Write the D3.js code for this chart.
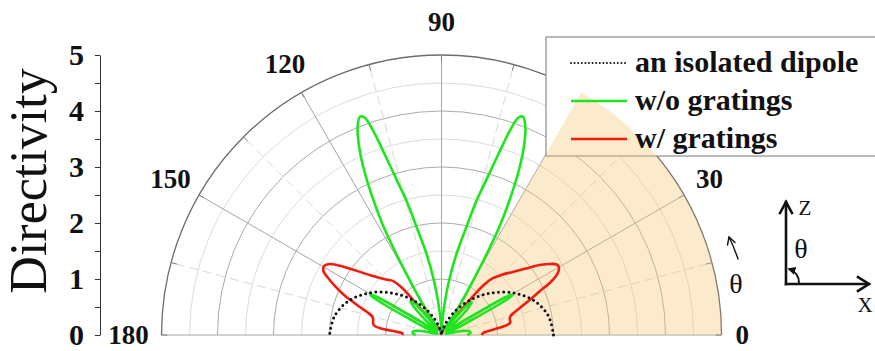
<!DOCTYPE html>
<html>
<head>
<meta charset="utf-8">
<script src="https://cdn.jsdelivr.net/npm/d3@7"></script>
<style>
  html, body { margin: 0; padding: 0; background: #fff; }
  svg { display: block; }
  text { font-family: "Liberation Serif", "Times New Roman", serif; }
</style>
</head>
<body>
<svg id="chart" width="875" height="351"></svg>
<script>
// Polar directivity patterns, theta in degrees (0 = +x, 90 = +z)
const thetaDipole = [0, 10, 20, 30, 40, 50, 60, 70, 80, 90, 100, 110, 120, 130, 140, 150, 160, 170, 180];
const dipole      = [2.0, 1.94, 1.77, 1.5, 1.17, 0.83, 0.5, 0.23, 0.06, 0.0, 0.06, 0.23, 0.5, 0.83, 1.17, 1.5, 1.77, 1.94, 2.0];

const thetaWoGratings = [
  0, 4, 8, 11, 14, 17, 21, 24, 26.5, 28, 29.2, 30.3, 31.3, 32.5, 34.5, 38, 42, 45, 47.5, 49.5,
  51.5, 54, 56.5, 58.5, 60, 61, 62, 63.5, 65, 66.5, 68, 69.5, 70.5, 71.5, 72.5, 74, 75.5, 77, 79.5, 82,
  84.5, 87, 90, 93, 95.5, 98, 100.5, 103, 104.5, 106, 107.5, 108.5, 109.5, 110.5, 112, 113.5, 115, 116.5, 118, 119,
  120, 121.5, 123.5, 126, 128.5, 130.5, 132.5, 135, 138, 142, 145.5, 147.5, 148.7, 149.7, 150.8, 152, 153.5, 156, 159, 163,
  166, 169, 172, 176, 180
];
const woGratings = [
  0.46, 0.52, 0.5, 0.38, 0.12, 0.08, 0.1, 0.3, 0.6, 1.15, 1.46, 1.4, 0.95, 0.5, 0.15, 0.1, 0.3, 0.65, 0.8, 0.7,
  0.4, 0.12, 0.15, 0.6, 1.2, 1.75, 2.25, 2.8, 3.3, 3.7, 4.0, 4.16, 4.12, 3.85, 3.4, 2.85, 2.45, 1.98, 1.48, 1.0,
  0.55, 0.2, 0.05, 0.2, 0.55, 1.0, 1.48, 1.98, 2.45, 2.85, 3.4, 3.85, 4.12, 4.16, 4.0, 3.7, 3.3, 2.8, 2.25, 1.75,
  1.2, 0.6, 0.15, 0.12, 0.4, 0.78, 0.82, 0.65, 0.3, 0.1, 0.15, 0.5, 0.95, 1.4, 1.46, 1.15, 0.6, 0.3, 0.1, 0.08,
  0.12, 0.38, 0.5, 0.52, 0.46
];

const thetaWGratings = [
  0, 2.5, 4.5, 6.5, 8.5, 10.5, 13, 15.5, 17.5, 20, 22, 24, 26, 28, 30, 31.5, 33, 35.5, 38.5, 41.5,
  45, 48, 50, 51, 52, 53.5, 57, 63, 70, 78, 85, 90, 95, 102, 110, 117, 123, 126.5, 128, 129,
  130, 132, 135, 140, 145, 147.5, 149.5, 151.5, 153.5, 155.5, 157.5, 159, 161, 162.8, 165, 167.5, 170, 171.8, 173.8, 175.8,
  177.5, 180
];
const wGratings = [
  0.72, 0.74, 0.82, 0.98, 1.18, 1.25, 1.25, 1.28, 1.38, 1.55, 1.72, 1.92, 2.18, 2.35, 2.42, 2.41, 2.33, 2.15, 1.9, 1.7,
  1.52, 1.36, 1.15, 0.8, 0.5, 0.3, 0.22, 0.17, 0.12, 0.08, 0.05, 0.04, 0.05, 0.08, 0.12, 0.17, 0.22, 0.3, 0.5, 0.8,
  1.1, 1.3, 1.4, 1.66, 2.12, 2.36, 2.43, 2.4, 2.25, 2.08, 1.9, 1.74, 1.55, 1.39, 1.28, 1.25, 1.24, 1.22, 1.1, 0.82,
  0.7, 0.7
];

const angleTicks = [0, 30, 60, 90, 120, 150, 180];
const radialTicks = [0, 1, 2, 3, 4, 5];
const seriesNames = ["an isolated dipole", "w/o gratings", "w/ gratings"];

// ---- layout ----
const svg = d3.select("#chart");
const cx = 441.5, cy = 335, R = 280;
const rScale = d3.scaleLinear().domain([0, 5]).range([0, R]);
const rad = t => t * Math.PI / 180;
const px = (t, r) => cx + r * Math.cos(rad(t));
const py = (t, r) => cy - r * Math.sin(rad(t));

const gridG = svg.append("g");

// concentric grid arcs (upper half plane)
const rings = d3.range(0.5, 5.001, 0.5);
gridG.selectAll("path.ring").data(rings).join("path")
  .attr("class", "ring")
  .attr("d", v => { const p = d3.path(); p.arc(cx, cy, rScale(v), Math.PI, 2 * Math.PI); return p.toString(); })
  .attr("fill", "none")
  .attr("stroke", v => v === 5 ? "#6c6c6c" : (Number.isInteger(v) ? "#ababab" : "#dcdcdc"))
  .attr("stroke-width", v => v === 5 ? 1.3 : 1);

// radial spokes every 15 degrees
const spokes = d3.range(0, 181, 15);
gridG.selectAll("line.spoke").data(spokes).join("line")
  .attr("class", "spoke")
  .attr("x1", cx).attr("y1", cy)
  .attr("x2", t => px(t, R)).attr("y2", t => py(t, R))
  .attr("stroke", t => t % 30 === 0 ? "#a4a4a4" : "#d8d8d8")
  .attr("stroke-dasharray", t => t % 30 === 0 ? null : "9,5")
  .attr("stroke-width", 1);

// small inward ticks on the outer arc
gridG.selectAll("line.otick").data(spokes).join("line")
  .attr("class", "otick")
  .attr("x1", t => px(t, R - 6)).attr("y1", t => py(t, R - 6))
  .attr("x2", t => px(t, R)).attr("y2", t => py(t, R))
  .attr("stroke", "#7a7a7a").attr("stroke-width", 1);

// angular labels
svg.append("g").selectAll("text").data(angleTicks).join("text")
  .attr("x", t => t < 90 ? px(t, R + 14) : px(t, R + 33))
  .attr("y", t => t < 90 ? py(t, R + 14) - Math.sin(rad(t)) * 18 : py(t, R + 33))
  .attr("text-anchor", t => t < 90 ? "start" : "middle")
  .attr("dominant-baseline", "central")
  .attr("font-size", 27).attr("font-weight", "bold").attr("fill", "#111")
  .text(t => t);

// legend frame
const lg = { x: 546, y: 37, w: 340, h: 119 };
svg.append("rect")
  .attr("x", lg.x).attr("y", lg.y).attr("width", lg.w).attr("height", lg.h)
  .attr("fill", "#fff").attr("stroke", "#8a8a8a").attr("stroke-width", 1.2);

// highlighted sector 0..60 degrees
svg.append("path")
  .attr("transform", `translate(${cx},${cy})`)
  .attr("d", d3.arc()({ innerRadius: 0, outerRadius: R, startAngle: rad(90 - 60), endAngle: rad(90) }))
  .attr("fill", "#f7c46c").attr("fill-opacity", 0.35);

// pattern curves
const radial = d3.lineRadial()
  .angle(d => rad(90 - d[0]))
  .radius(d => rScale(d[1]))
  .curve(d3.curveCatmullRom.alpha(0.5));
const plotG = svg.append("g").attr("transform", `translate(${cx},${cy})`);

plotG.append("path")
  .attr("d", radial(d3.zip(thetaWGratings, wGratings)))
  .attr("fill", "none").attr("stroke", "#f01c10").attr("stroke-width", 2.6).attr("stroke-linejoin", "round");
plotG.append("path")
  .attr("d", radial(d3.zip(thetaWoGratings, woGratings)))
  .attr("fill", "none").attr("stroke", "#1ee61e").attr("stroke-width", 2.6).attr("stroke-linejoin", "round");
plotG.append("path")
  .attr("d", radial(d3.zip(thetaDipole, dipole)))
  .attr("fill", "none").attr("stroke", "#111").attr("stroke-width", 3)
  .attr("stroke-linecap", "round").attr("stroke-dasharray", "0,5.2");

// legend entries
const legendStyles = [
  { stroke: "#111", width: 2, dash: "0,3.6", cap: "round" },
  { stroke: "#1ee61e", width: 2.6, dash: null, cap: "butt" },
  { stroke: "#f01c10", width: 2.6, dash: null, cap: "butt" }
];
const legRows = svg.append("g").selectAll("g").data(seriesNames).join("g")
  .attr("transform", (d, i) => `translate(0,${72 + i * 38})`);
legRows.append("line")
  .attr("x1", 571).attr("x2", 627).attr("y1", -9).attr("y2", -9)
  .attr("stroke", (d, i) => legendStyles[i].stroke)
  .attr("stroke-width", (d, i) => legendStyles[i].width)
  .attr("stroke-dasharray", (d, i) => legendStyles[i].dash)
  .attr("stroke-linecap", (d, i) => legendStyles[i].cap);
legRows.append("text")
  .attr("x", 635).attr("y", 0)
  .attr("font-size", 30).attr("font-weight", "bold").attr("fill", "#111")
  .text(d => d);

// radial value axis on the left
const yScale = d3.scaleLinear().domain([0, 5]).range([cy, cy - R]);
const yAxis = d3.axisLeft(yScale)
  .tickValues(d3.range(0, 5.001, 0.5))
  .tickSize(5).tickSizeOuter(0).tickPadding(11)
  .tickFormat(d => Number.isInteger(d) ? d : "");
const yg = svg.append("g").attr("transform", "translate(100,0)").call(yAxis);
yg.select(".domain").attr("stroke", "#333");
yg.selectAll(".tick line").attr("stroke", "#333");
yg.selectAll(".tick text")
  .attr("font-family", "'Liberation Serif', 'Times New Roman', serif")
  .attr("font-size", 30).attr("font-weight", "bold").attr("fill", "#111");

svg.append("text")
  .attr("transform", "translate(46,181) rotate(-90)")
  .attr("text-anchor", "middle")
  .attr("font-size", 52).attr("fill", "#111")
  .text("Directivity");

// angle direction hint near the outer arc
const defs = svg.append("defs");
defs.append("marker").attr("id", "fillHead").attr("viewBox", "0 0 10 10")
  .attr("refX", 8).attr("refY", 5).attr("markerWidth", 4).attr("markerHeight", 4)
  .attr("orient", "auto")
  .append("path").attr("d", "M0,0 L10,5 L0,10 Z").attr("fill", "#111");

const hint = svg.append("g").attr("fill", "none").attr("stroke", "#111").attr("stroke-width", 1.4)
  .attr("stroke-linecap", "round").attr("stroke-linejoin", "round");
hint.append("path").attr("d", "M738,259 Q734,247 729,237");
hint.append("path").attr("d", "M727.5,245 L729,237 L735,242.5");
svg.append("text")
  .attr("x", 736).attr("y", 283).attr("text-anchor", "middle").attr("dominant-baseline", "central")
  .attr("font-size", 28).attr("fill", "#111").text("θ");

// coordinate inset (x, z axes)
const ox = 786, oy = 284;
const inset = svg.append("g").attr("stroke", "#111").attr("stroke-width", 2.6).attr("fill", "none")
  .attr("stroke-linecap", "square");
inset.append("line").attr("x1", ox).attr("y1", oy).attr("x2", ox).attr("y2", 202);
inset.append("path").attr("d", `M${ox - 6},${213} L${ox},${202} L${ox + 6},${213}`).attr("stroke-linejoin", "miter");
inset.append("line").attr("x1", ox).attr("y1", oy).attr("x2", 869).attr("y2", oy);
inset.append("path").attr("d", `M${858},${oy - 7} L${869},${oy} L${858},${oy + 7}`);
svg.append("path")
  .attr("d", `M${ox + 13},${oy - 1} A14,14 0 0 0 ${ox + 3},${oy - 15}`)
  .attr("fill", "none").attr("stroke", "#111").attr("stroke-width", 2)
  .attr("marker-end", "url(#fillHead)");
svg.append("text").attr("x", 805).attr("y", 208).attr("text-anchor", "middle").attr("dominant-baseline", "central")
  .attr("font-size", 21).attr("fill", "#111").text("Z");
svg.append("text").attr("x", 801).attr("y", 248).attr("text-anchor", "middle").attr("dominant-baseline", "central")
  .attr("font-size", 28).attr("fill", "#111").text("θ");
svg.append("text").attr("x", 865).attr("y", 305).attr("text-anchor", "middle").attr("dominant-baseline", "central")
  .attr("font-size", 21).attr("fill", "#111").text("X");
</script>
</body>
</html>
